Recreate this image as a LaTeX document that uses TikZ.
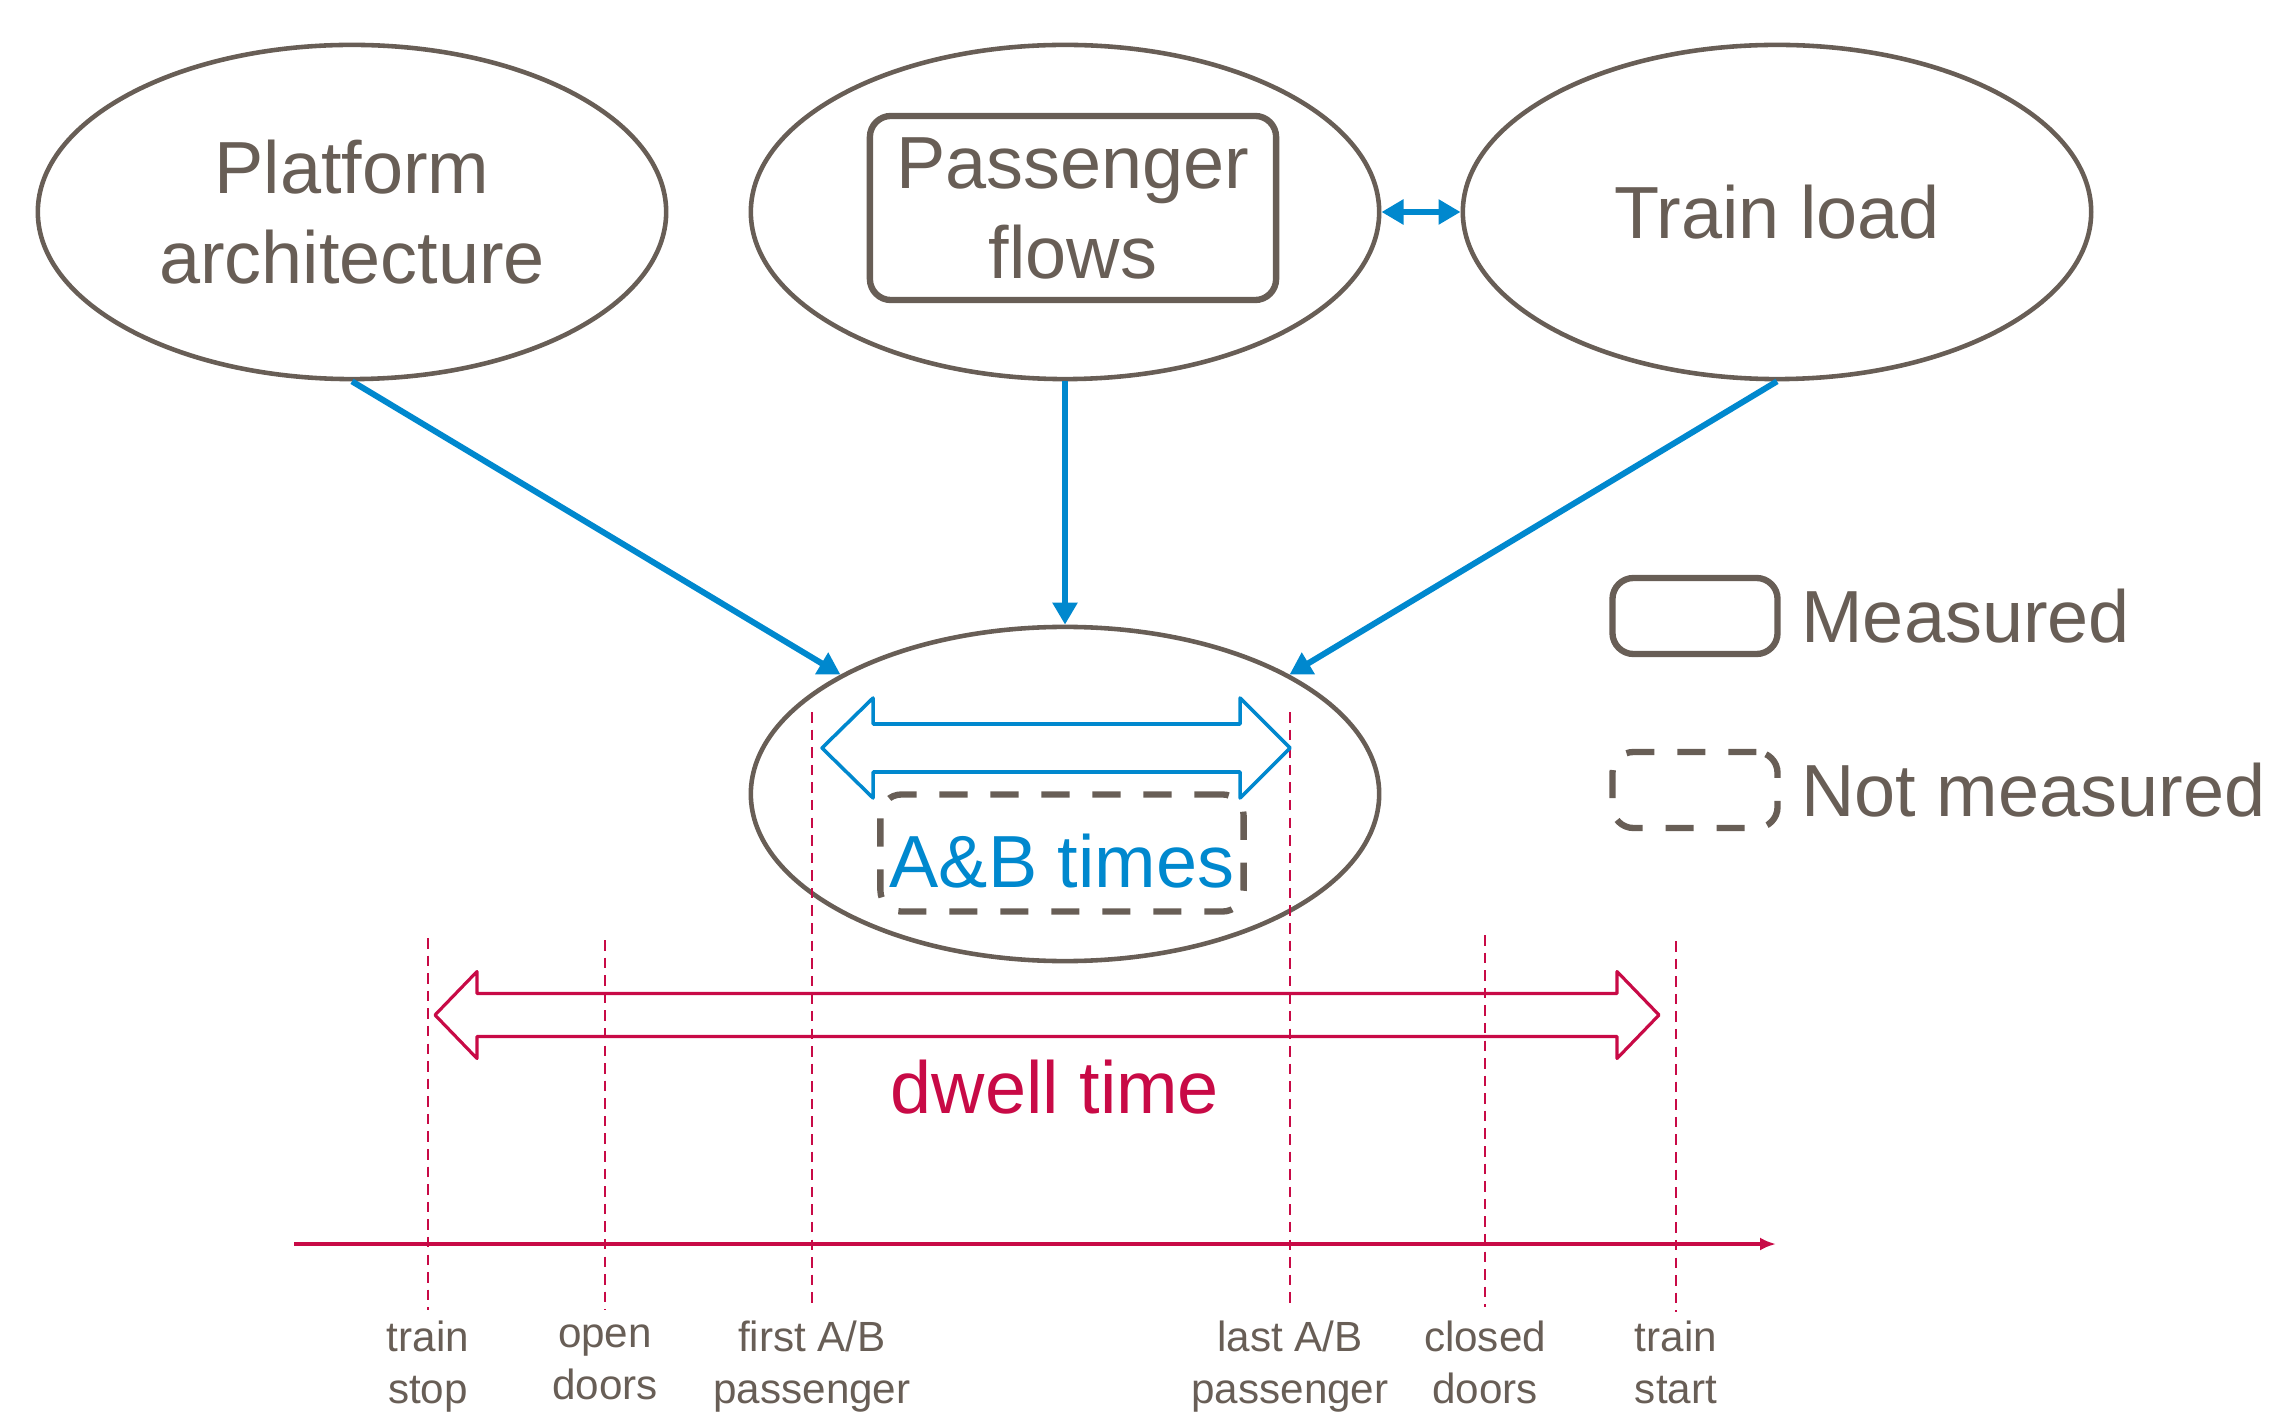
\documentclass[tikz,border=0pt]{standalone}
\usepackage{fontspec}
\setmainfont{Liberation Sans}
\usetikzlibrary{arrows.meta, positioning, shapes.geometric}
\definecolor{textgray}{RGB}{104,94,86}
\definecolor{flowblue}{RGB}{0,136,206}
\definecolor{dwellred}{RGB}{200,10,70}

\begin{document}
\begin{tikzpicture}[
    x=0.01cm, y=-0.01cm, % pixel units, y pointing down
    >=Latex, % Set default arrow tip style
    bigtext/.style={font=\fontsize{21}{25.6}\selectfont}, % Large labels
    factor/.style={ellipse, draw=textgray, line width=1.3pt, minimum width=6.28cm,
        minimum height=3.34cm, inner sep=0pt, text=textgray, align=center, bigtext},
    measured/.style={rounded corners=6pt, draw=textgray, line width=1.8pt}, % Solid box
    unmeasured/.style={measured, dash pattern=on 8pt off 6.5pt}, % Dashed box
    influence/.style={-{Triangle[length=0.22cm, width=0.24cm]}, flowblue, line width=1.7pt},
    event/.style={dwellred, line width=0.5pt, dash pattern=on 3pt off 2pt}, % Event markers
    eventlabel/.style={text=textgray, align=center, font=\fontsize{12}{14.8}\selectfont,
        execute at begin node=\strut, execute at end node=\strut}
]
    \useasboundingbox (0,0) rectangle (2273,1413);

    % Factors
    \node[factor] (plat) at (352,212) {Platform\\architecture};
    \node[factor] (pass) at (1065,212) {};
    \node[measured, minimum width=4.06cm, minimum height=1.84cm, text=textgray,
        align=center, bigtext] (flows) at (1073,208) {Passenger\\flows};
    \node[factor] (load) at (1777,212) {Train load};
    \node[factor] (ab) at (1065,794) {};

    % Influences
    \draw[influence] (plat.south) -- (ab.152);
    \draw[influence] (pass.south) -- (ab.north);
    \draw[influence] (load.south) -- (ab.28);
    \draw[influence, {Triangle[length=0.22cm, width=0.24cm]}-{Triangle[length=0.22cm, width=0.24cm]}]
        (pass.east) -- (load.west);

    % Event markers with their labels
    \foreach \x/\ytop/\ybot/\lab in {428/938/1310/{train\\stop}, 605/940/1310/{open\\doors},
        812/712/1303/{first A/B\\passenger}, 1290/712/1303/{last A/B\\passenger},
        1485/935/1307/{closed\\doors}, 1676/941/1312/{train\\start}} {
        \draw[event] (\x,\ytop) -- (\x,\ybot);
        \node[eventlabel] (ev\x) at (\x,1370) {\lab};
    }

    % A&B times (wide blue arrow)
    \draw[flowblue, line width=1pt, line join=round] (822,748) -- (873,698) -- (873,724)
        -- (1240,724) -- (1240,698) -- (1290,748) -- (1240,798) -- (1240,772)
        -- (873,772) -- (873,798) -- cycle;
    \node[unmeasured, minimum width=3.63cm, minimum height=1.17cm, inner sep=2pt,
        text height=0.69cm, text depth=0pt, text=flowblue, bigtext] (abtimes) at (1062,853) {A\&B times};

    % Dwell time (wide red arrow)
    \draw[dwellred, line width=0.9pt, line join=round] (435,1015) -- (477,971.5) -- (477,993.5)
        -- (1617,993.5) -- (1617,971.5) -- (1659,1015) -- (1617,1058.5) -- (1617,1036.5)
        -- (477,1036.5) -- (477,1058.5) -- cycle;
    \node[text=dwellred, bigtext] (dwell) at (1055,1087) {dwell time};

    % Time axis
    \coordinate (t0) at (294,1244);
    \coordinate (t1) at (1776,1244);
    \draw[dwellred, line width=1.2pt, -{Latex[length=0.16cm, width=0.13cm]}] (t0) -- (t1);

    % Legend
    \node[measured, minimum width=1.65cm, minimum height=0.76cm] (keym) at (1695,616) {};
    \node[right=0.2cm of keym, inner sep=0pt, text=textgray, bigtext] (keymtext) {Measured};
    \node[unmeasured, minimum width=1.65cm, minimum height=0.76cm] (keyn) at (1695,790) {};
    \node[right=0.2cm of keyn, inner sep=0pt, text=textgray, bigtext] (keyntext) {Not measured};

\end{tikzpicture}
\end{document}
